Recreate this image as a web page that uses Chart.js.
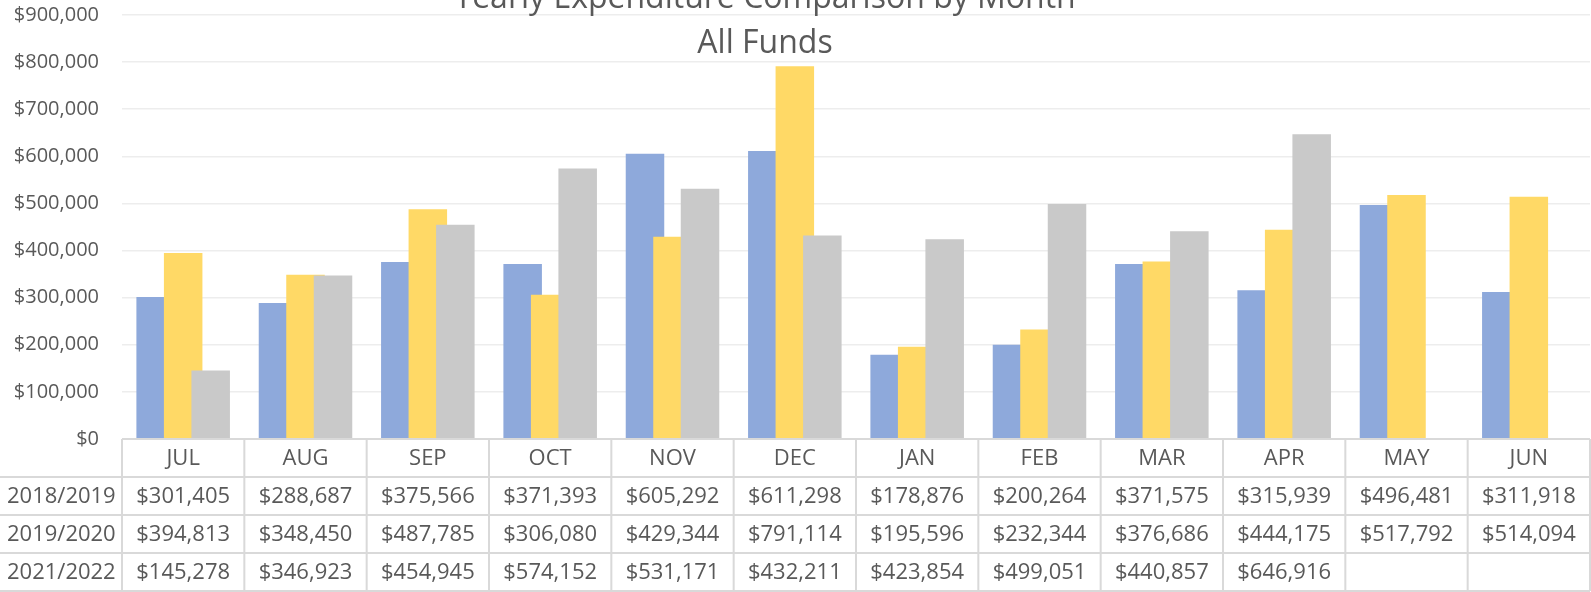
<!DOCTYPE html>
<html>
<head>
<meta charset="utf-8">
<script src="https://cdn.jsdelivr.net/npm/chart.js@4"></script>
<style>
  html, body { margin: 0; padding: 0; background: #ffffff; overflow: hidden; width: 1591px; height: 592px; }
  #wrap { position: absolute; left: -60px; top: -20px; width: 1651px; height: 612px; }
</style>
</head>
<body>
<div id="wrap"><canvas id="c"></canvas></div>
<script>
const months = ['JUL','AUG','SEP','OCT','NOV','DEC','JAN','FEB','MAR','APR','MAY','JUN'];
const seriesNames = ['2018/2019','2019/2020','2021/2022'];
const fy2018 = [301405,288687,375566,371393,605292,611298,178876,200264,371575,315939,496481,311918];
const fy2019 = [394813,348450,487785,306080,429344,791114,195596,232344,376686,444175,517792,514094];
const fy2021 = [145278,346923,454945,574152,531171,432211,423854,499051,440857,646916,null,null];
const yTicks = [0,100000,200000,300000,400000,500000,600000,700000,800000,900000];
const titleLines = ['Yearly Expenditure Comparison by Month','All Funds'];

const colors = ['#8EA9DB','#FFD966','#C9C9C9'];
const textColor = '#595959';
const lineColor = '#D9D9D9';
const FONT = '"Open Sans", "Liberation Sans", sans-serif';
const money = v => '$' + Number(v).toLocaleString('en-US');

const allSeries = [fy2018, fy2019, fy2021];
const ROW_H = 38;

const orderedDraw = {
  id: 'orderedDraw',
  beforeDatasetsDraw(chart) {
    for (let i = 0; i < chart.data.datasets.length; i++) {
      const meta = chart.getDatasetMeta(i);
      if (!meta.hidden) meta.controller.draw();
    }
    return false;
  }
};

const dataTable = {
  id: 'dataTable',
  afterDraw(chart) {
    const ctx = chart.ctx;
    const xs = chart.scales.x;
    const area = chart.chartArea;
    const step = xs.getPixelForValue(1) - xs.getPixelForValue(0);
    const top = area.bottom;
    const rows = allSeries.length;
    const bottom = top + ROW_H * (rows + 1);
    const leftEdge = 40;
    ctx.save();
    ctx.strokeStyle = lineColor;
    ctx.lineWidth = 2;
    ctx.beginPath();
    ctx.moveTo(area.left, top); ctx.lineTo(area.right, top);
    for (let r = 1; r <= rows + 1; r++) {
      const y = top + ROW_H * r;
      ctx.moveTo(leftEdge, y); ctx.lineTo(area.right, y);
    }
    for (let i = 0; i <= months.length; i++) {
      const x = xs.getPixelForValue(i) - step / 2;
      ctx.moveTo(x, top); ctx.lineTo(x, bottom);
    }
    ctx.stroke();

    ctx.fillStyle = textColor;
    ctx.font = '22px ' + FONT;
    ctx.textBaseline = 'middle';
    ctx.textAlign = 'center';
    months.forEach((m, i) => {
      ctx.fillText(m, xs.getPixelForValue(i), top + ROW_H / 2 + 1);
    });
    allSeries.forEach((arr, r) => {
      const yc = top + ROW_H * (r + 1) + ROW_H / 2 + 1;
      ctx.textAlign = 'center';
      arr.forEach((v, i) => {
        if (v !== null && v !== undefined) ctx.fillText(money(v), xs.getPixelForValue(i), yc);
      });
      ctx.textAlign = 'left';
      ctx.fillText(seriesNames[r], 67, yc);
      ctx.fillStyle = colors[r];
      ctx.fillRect(51, yc - 5, 9, 9);
      ctx.fillStyle = textColor;
    });
    ctx.restore();
  }
};

new Chart(document.getElementById('c'), {
  type: 'bar',
  data: {
    labels: months,
    datasets: allSeries.map((arr, i) => ({
      label: seriesNames[i],
      data: arr,
      backgroundColor: colors[i],
      borderWidth: 0,
      categoryPercentage: 0.6746,
      barPercentage: 1.4
    }))
  },
  options: {
    responsive: true,
    maintainAspectRatio: false,
    animation: false,
    layout: { padding: { left: 0, right: 1, top: 0, bottom: 1 } },
    plugins: {
      legend: { display: false },
      tooltip: { enabled: false },
      title: {
        display: true,
        text: titleLines,
        color: textColor,
        font: { family: FONT, size: 32, weight: 'normal', lineHeight: 1.4 },
        padding: { top: -24.2, bottom: -51.4 }
      }
    },
    scales: {
      x: {
        type: 'category',
        grid: { display: false },
        border: { display: false },
        ticks: { display: false },
        afterFit(scale) { scale.height = ROW_H * 4; }
      },
      y: {
        min: 0,
        max: 900000,
        afterBuildTicks(scale) { scale.ticks = yTicks.map(v => ({ value: v })); },
        grid: { color: '#EDEDED', lineWidth: 1.5, drawTicks: false },
        border: { display: false },
        ticks: {
          color: textColor,
          padding: 23,
          font: { family: FONT, size: 20 },
          callback: v => money(v)
        },
        afterFit(scale) { scale.width = 182; }
      }
    }
  },
  plugins: [orderedDraw, dataTable]
});
</script>
</body>
</html>
